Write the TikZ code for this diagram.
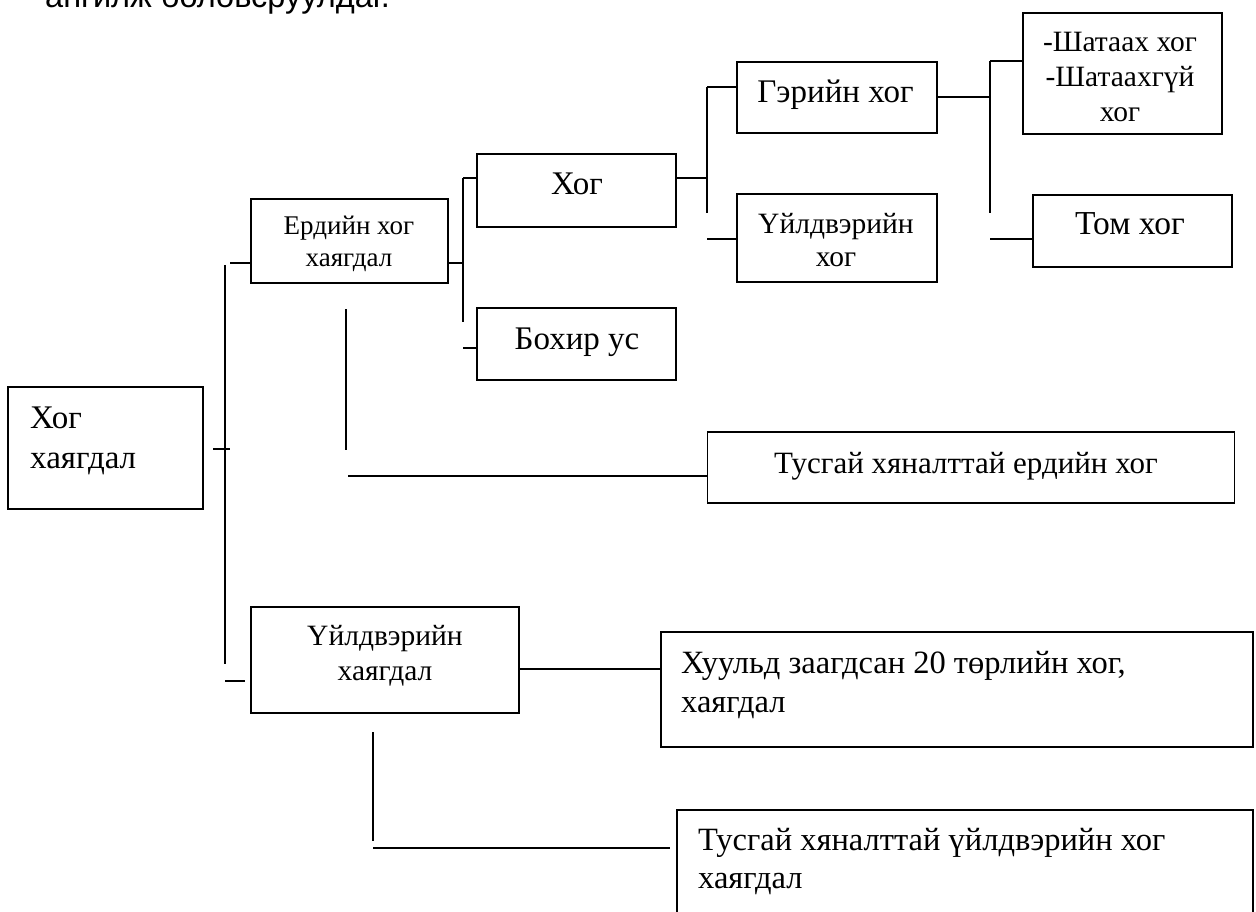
\documentclass[tikz,border=0pt]{standalone}
\usepackage{fontspec}
\setmainfont{Liberation Serif}
\newfontfamily\arialf{Liberation Sans}
\begin{document}
\begin{tikzpicture}[x=1pt,y=-1pt,
  boxn/.style={draw, line width=1.8pt, inner sep=0pt},
  conn/.style={line width=1.8pt},
  tbig/.style={inner sep=0pt, font=\fontsize{33}{40}\selectfont},
  tmid/.style={inner sep=0pt, font=\fontsize{31}{37}\selectfont},
  tsm/.style={inner sep=0pt, font=\fontsize{29.5}{35}\selectfont},
  terd/.style={inner sep=0pt, font=\fontsize{27}{32}\selectfont},
  tlong/.style={inner sep=0pt, font=\fontsize{32.5}{39}\selectfont}]
\useasboundingbox (0,0) rectangle (1256,912);
% top cut-off text
\node[anchor=base west, inner sep=0pt, font=\arialf\fontsize{32.5}{39}\selectfont] (toptxt) at (45,8) {ангилж боловсруулдаг.};
% boxes
\node[boxn, minimum width=195pt, minimum height=122pt] (root) at (105.5,448) {};
\node[boxn, minimum width=197pt, minimum height=84pt] (erd) at (349.5,241) {};
\node[boxn, minimum width=199pt, minimum height=73pt] (hog) at (576.5,190.5) {};
\node[boxn, minimum width=199pt, minimum height=72pt] (bohir) at (576.5,344) {};
\node[boxn, minimum width=200pt, minimum height=71pt] (ger) at (837,97.5) {};
\node[boxn, minimum width=200pt, minimum height=88pt] (uild) at (837,238) {};
\node[boxn, minimum width=199pt, minimum height=121pt] (shat) at (1122.5,73.5) {};
\node[boxn, minimum width=199pt, minimum height=72pt] (tom) at (1132.5,231) {};
\node[boxn, minimum width=527pt, minimum height=71pt] (tusE) at (971,467.5) {};
\node[boxn, minimum width=268pt, minimum height=106pt] (uildH) at (385,660) {};
\node[boxn, minimum width=592pt, minimum height=115pt] (huul) at (957,689.5) {};
\node[boxn, minimum width=576pt, minimum height=120pt] (tusU) at (965,870) {};
% texts
\node[tbig, anchor=base west] (rootA) at (30,428) {Хог};
\node[tbig, anchor=base west] (rootB) at (30,468) {хаягдал};
\node[terd, anchor=base] (erdA) at (349,235) {Ердийн хог};
\node[terd, anchor=base] (erdB) at (349,266) {хаягдал};
\node[tbig, anchor=base] (hogA) at (577,195) {Хог};
\node[tbig, anchor=base] (bohirA) at (577,349) {Бохир ус};
\node[tbig, anchor=base] (gerA) at (835.5,103) {Гэрийн хог};
\node[tsm, anchor=base] (uildA) at (836,234) {Үйлдвэрийн};
\node[tsm, anchor=base] (uildB) at (836,266) {хог};
\node[tsm, anchor=base] (shatA) at (1120,52) {-Шатаах хог};
\node[tsm, anchor=base] (shatB) at (1120,87) {-Шатаахгүй};
\node[tsm, anchor=base] (shatC) at (1120,122) {хог};
\node[font=\fontsize{33.5}{40}\selectfont, inner sep=0pt, anchor=base] (tomA) at (1130,235) {Том хог};
\node[tmid, anchor=base] (tusEA) at (966,473) {Тусгай хяналттай ердийн хог};
\node[tsm, anchor=base] (uildHA) at (385,645) {Үйлдвэрийн};
\node[tsm, anchor=base] (uildHB) at (385,680) {хаягдал};
\node[tlong, anchor=base west] (huulA) at (681,673) {Хуульд заагдсан 20 төрлийн хог,};
\node[tlong, anchor=base west] (huulB) at (681,712) {хаягдал};
\node[tlong, anchor=base west] (tusUA) at (698,850) {Тусгай хяналттай үйлдвэрийн хог};
\node[tlong, anchor=base west] (tusUB) at (698,888) {хаягдал};
% free-end coordinates
\coordinate (trT) at (225,265);
\coordinate (trB) at (225,664);
\coordinate (erdS) at (230,263);
\coordinate (tickL) at (213,449);
\coordinate (tickR) at (230,449);
\coordinate (uhS) at (225,681);
\coordinate (uhE) at (245,681);
\coordinate (b1) at (463,263);
\coordinate (b1T) at (463,178);
\coordinate (b1B) at (463,322);
\coordinate (b1S) at (463,348);
\coordinate (evT) at (346,309);
\coordinate (evB) at (346,450);
\coordinate (ehL) at (348,476);
\coordinate (b2) at (707,178);
\coordinate (b2T) at (707,87);
\coordinate (b2B) at (707,213);
\coordinate (b2S) at (707,239);
\coordinate (b3) at (990,97);
\coordinate (b3T) at (990,61);
\coordinate (b3B) at (990,213);
\coordinate (b3S) at (990,239);
\coordinate (uvT) at (373,732);
\coordinate (uvB) at (373,841);
\coordinate (uhL) at (373,848);
\coordinate (uhR) at (670,848);
% connectors
\draw[conn] (trT) -- (trB);
\draw[conn] (erdS) -- (erd.west |- erdS);
\draw[conn] (tickL) -- (tickR);
\draw[conn] (uhS) -- (uhE);
\draw[conn] (erd.east |- b1) -- (b1);
\draw[conn] (b1T) -- (b1B);
\draw[conn] (b1T) -- (hog.west |- b1T);
\draw[conn] (b1S) -- (bohir.west |- b1S);
\draw[conn] (evT) -- (evB);
\draw[conn] (ehL) -- (tusE.west |- ehL);
\draw[conn] (hog.east |- b2) -- (b2);
\draw[conn] (b2T) -- (b2B);
\draw[conn] (b2T) -- (ger.west |- b2T);
\draw[conn] (b2S) -- (uild.west |- b2S);
\draw[conn] (ger.east |- b3) -- (b3);
\draw[conn] (b3T) -- (b3B);
\draw[conn] (b3T) -- (shat.west |- b3T);
\draw[conn] (b3S) -- (tom.west |- b3S);
\draw[conn] (uildH.east |- 0,669) -- (huul.west |- 0,669);
\draw[conn] (uvT) -- (uvB);
\draw[conn] (uhL) -- (uhR);
\end{tikzpicture}
\end{document}
